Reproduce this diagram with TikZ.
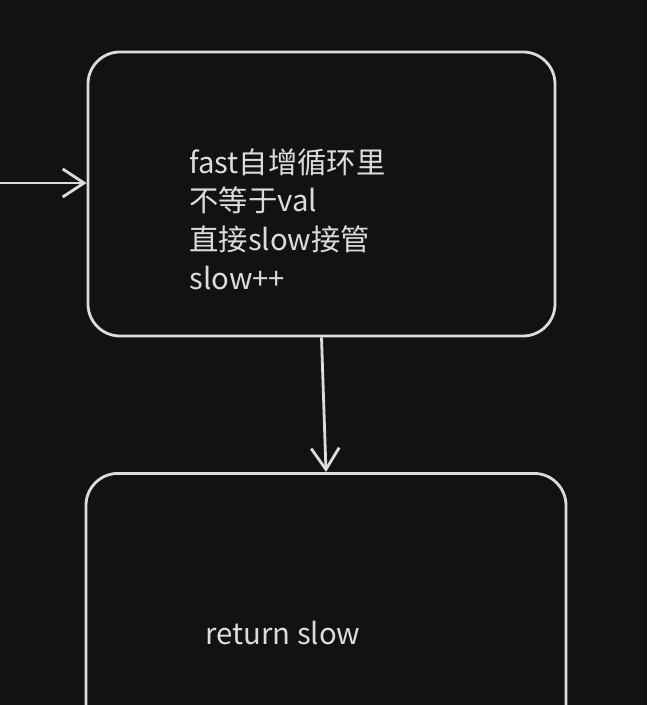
\documentclass[tikz,border=0pt]{standalone}
\usepackage{fontspec}
\newfontfamily\cjk{Noto Sans CJK SC}
\usetikzlibrary{arrows.meta,positioning}
\definecolor{canvas}{HTML}{121212}
\definecolor{ink}{HTML}{DCDCDC}
\begin{document}
\begin{tikzpicture}[x=0.75pt, y=-0.75pt, line width=2.1pt,
  >={Straight Barb[length=16pt, width=21pt, line width=2.1pt]},
  box/.style={draw=ink, rounded corners=24pt, inner sep=0pt},
  txt/.style={text=ink, font=\cjk\fontsize{22}{29}\selectfont, align=left, inner sep=0pt}]

  % canvas
  \fill[canvas] (0,0) rectangle (647,705);
  \useasboundingbox (0,0) rectangle (647,705);
  \clip (0,0) rectangle (647,705);

  % boxes
  \node[box, minimum width=467*0.75pt, minimum height=284*0.75pt] (fastloop) at (321.5,194) {};
  \node[box, anchor=north, minimum width=480*0.75pt, minimum height=330*0.75pt] (returnbox) at (326,472) {};

  % texts
  \node[txt, anchor=west] (steps) at (188,219) {fast自增循环里\\不等于val\\直接slow接管\\slow++};
  \node[txt, anchor=west] (result) at (204,633) {return slow};

  % connectors
  \coordinate (entry) at (0,183);
  \draw[ink, ->] (entry) -- (fastloop.west |- entry);
  \draw[ink, ->] (fastloop.south) -- (returnbox.north);

\end{tikzpicture}
\end{document}
